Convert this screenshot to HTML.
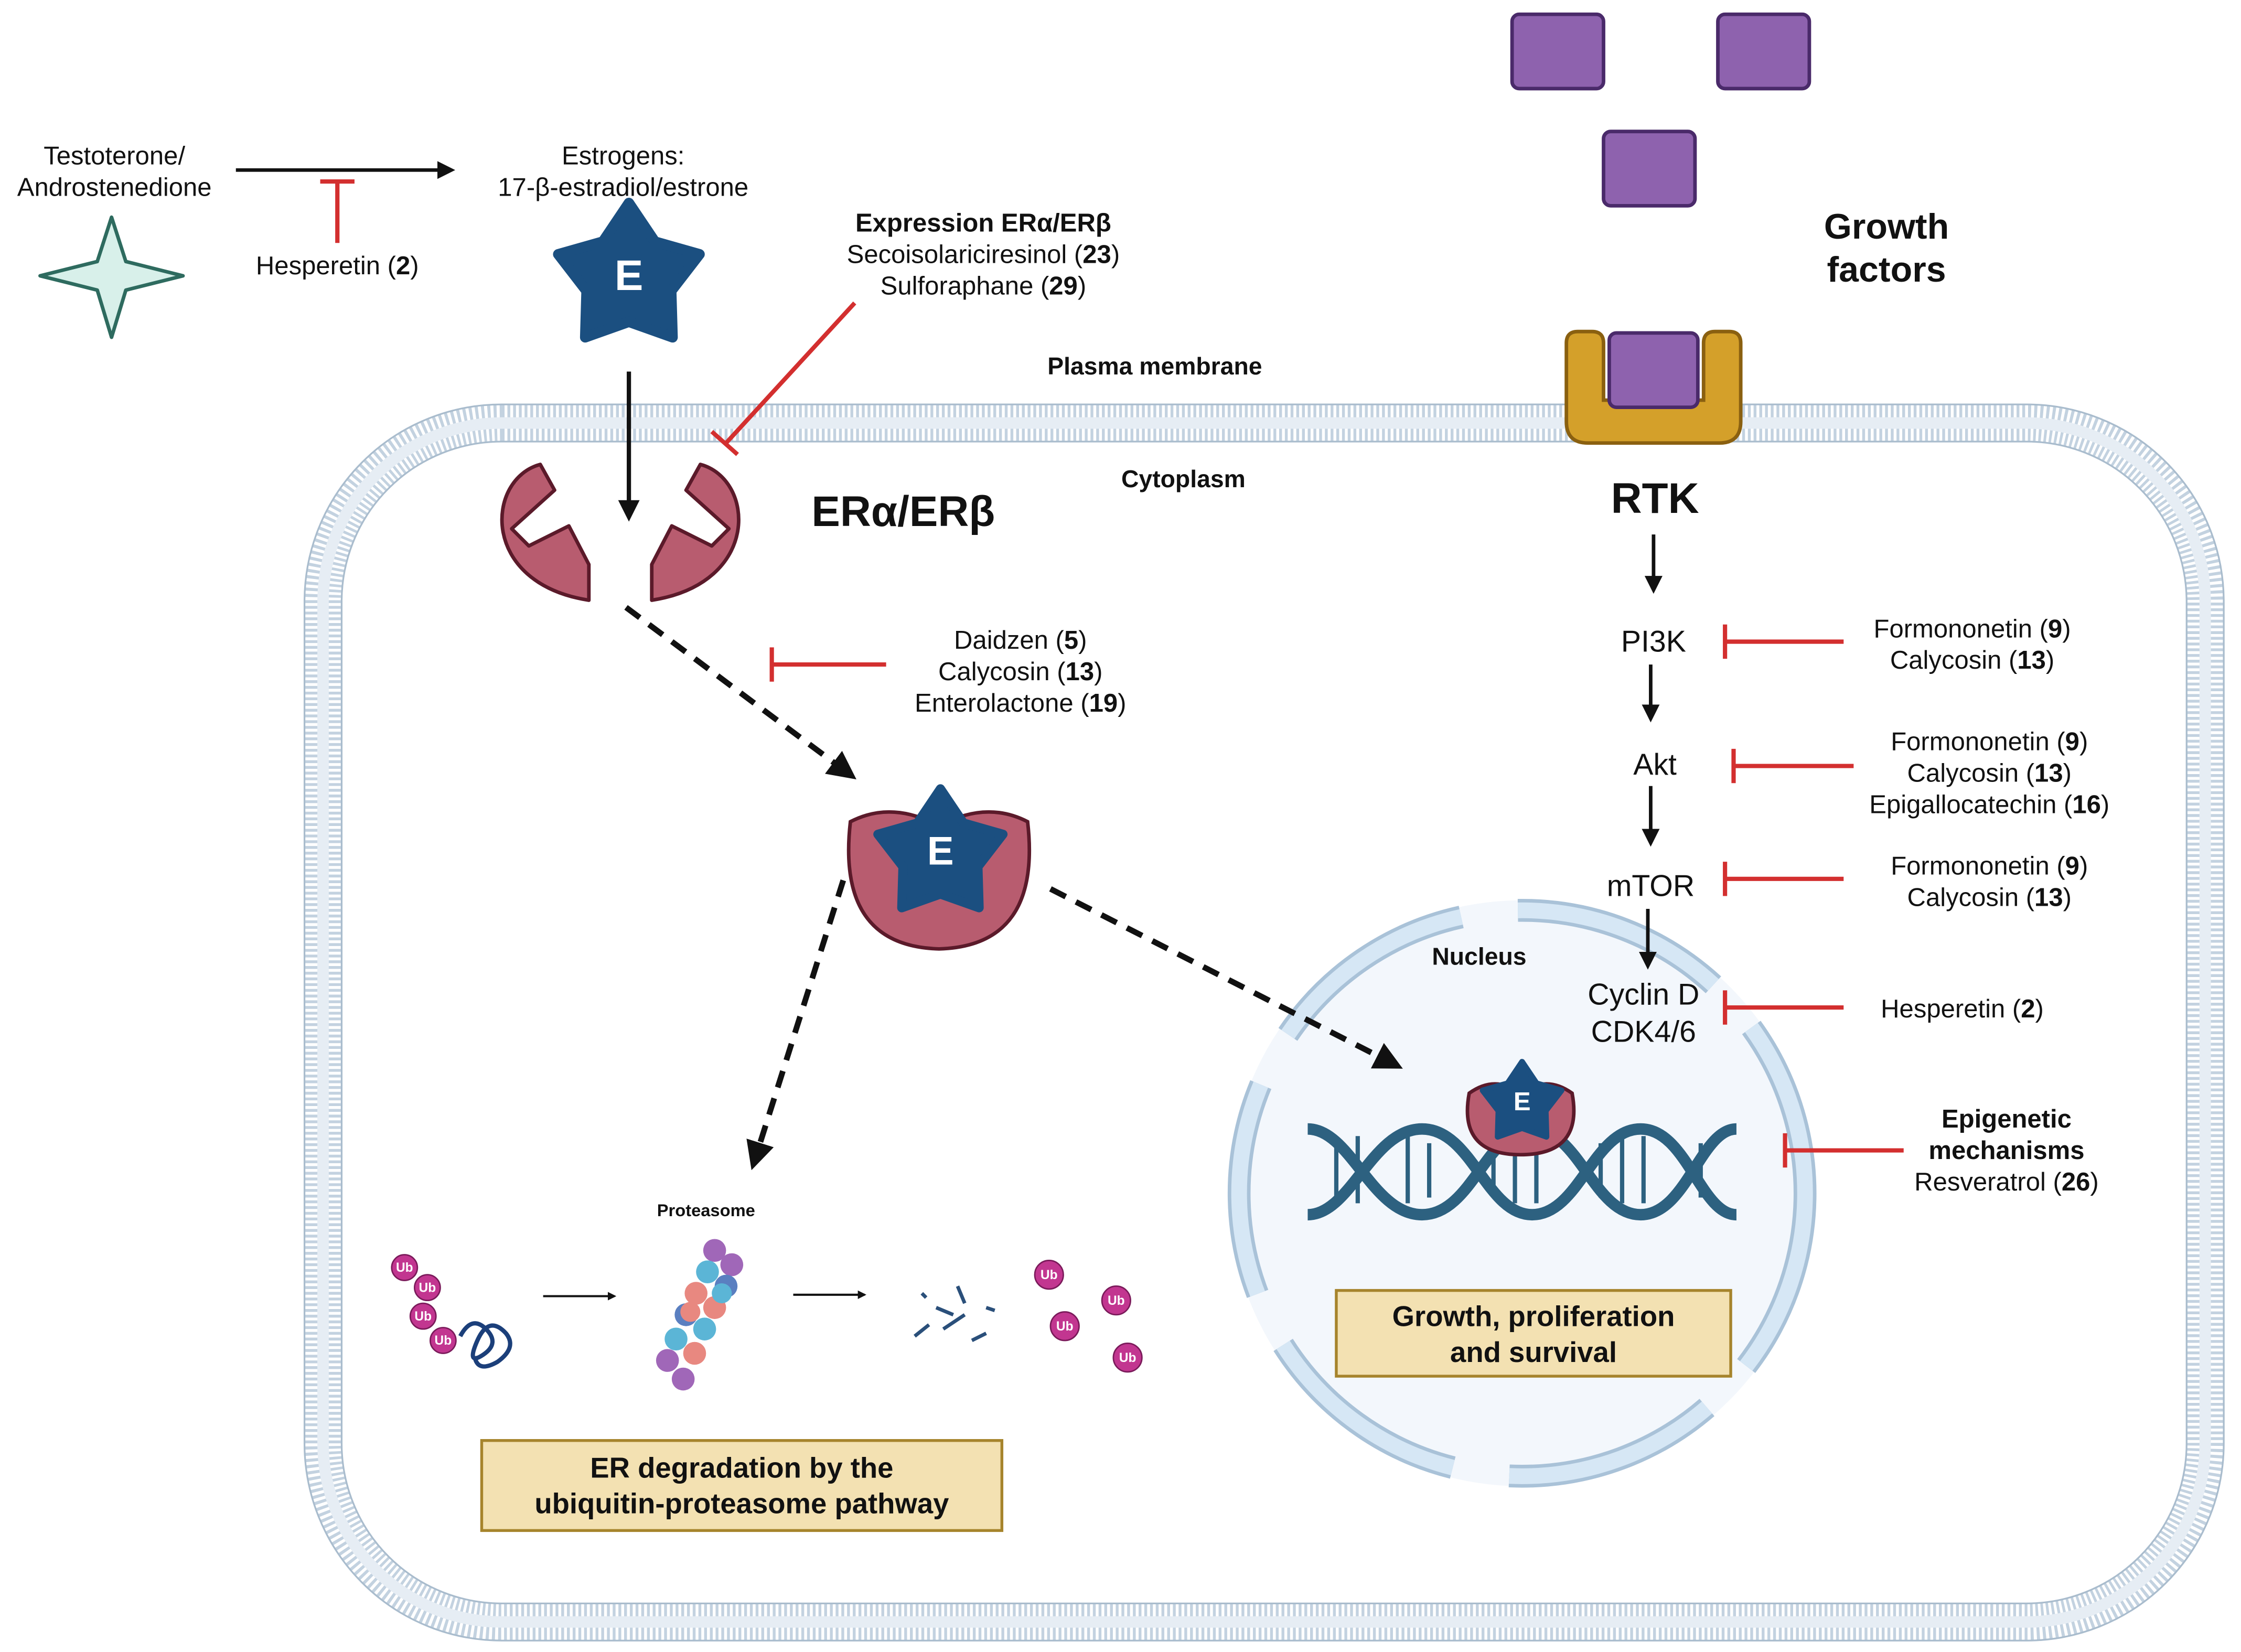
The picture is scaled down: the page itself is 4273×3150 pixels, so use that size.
<!DOCTYPE html>
<html><head><meta charset="utf-8"><style>
html,body{margin:0;padding:0;background:#fff}
svg{display:block}
text{font-family:"Liberation Sans",sans-serif;fill:#111}
.b{font-weight:bold}
</style></head><body>
<svg width="4273" height="3150" viewBox="0 0 1568 1156" xmlns="http://www.w3.org/2000/svg">
<defs>
<path id="star" d="M0,-1 L0.35,-0.48 L0.951,-0.309 L0.57,0.185 L0.588,0.809 L0,0.6 L-0.588,0.809 L-0.57,0.185 L-0.951,-0.309 L-0.35,-0.48 Z"/>
<marker id="ah" viewBox="0 0 10 10" refX="8" refY="5" markerWidth="5" markerHeight="5" orient="auto"><path d="M0,0 L10,5 L0,10 z" fill="#111"/></marker>
<marker id="ah2" viewBox="0 0 10 10" refX="8" refY="5" markerWidth="4" markerHeight="4" orient="auto"><path d="M0,0 L10,5 L0,10 z" fill="#111"/></marker>
</defs>

<!-- cell membrane -->
<rect x="226" y="296" width="1317" height="839" rx="125" fill="none" stroke="#c3d2e0" stroke-width="26" stroke-dasharray="2 2"/>
<rect x="226" y="296" width="1317" height="839" rx="125" fill="none" stroke="#e6edf4" stroke-width="8"/>
<rect x="213" y="283" width="1343" height="865" rx="138" fill="none" stroke="#a9bccd" stroke-width="1.2"/>
<rect x="239" y="309" width="1291" height="813" rx="112" fill="none" stroke="#a9bccd" stroke-width="1.2"/>

<!-- top left -->
<text x="80" y="115" font-size="18" text-anchor="middle">Testoterone/</text>
<text x="80" y="137" font-size="18" text-anchor="middle">Androstenedione</text>
<line x1="165" y1="119" x2="316" y2="119" stroke="#111" stroke-width="2.5" marker-end="url(#ah)"/>
<line x1="236" y1="170" x2="236" y2="127" stroke="#d32f2f" stroke-width="3"/>
<line x1="224" y1="127" x2="248" y2="127" stroke="#d32f2f" stroke-width="3"/>
<text x="236" y="192" font-size="18" text-anchor="middle">Hesperetin (<tspan class="b">2</tspan>)</text>
<path d="M78,152 L88,183 L128,193 L88,203 L78,236 L68,203 L28,193 L68,183 Z" fill="#d8f0ea" stroke="#2e6b5f" stroke-width="2.5" stroke-linejoin="round"/>

<text x="436" y="115" font-size="18" text-anchor="middle">Estrogens:</text>
<text x="436" y="137" font-size="18" text-anchor="middle">17-β-estradiol/estrone</text>
<use href="#star" transform="translate(440,194) scale(52)" fill="#1b4f80" stroke="#1b4f80" stroke-width="0.14" stroke-linejoin="round"/>
<text x="440" y="203" font-size="30" class="b" text-anchor="middle" style="fill:#fff">E</text>
<line x1="440" y1="260" x2="440" y2="362" stroke="#111" stroke-width="3" marker-end="url(#ah)"/>

<text x="688" y="162" font-size="18" class="b" text-anchor="middle">Expression ERα/ERβ</text>
<text x="688" y="184" font-size="18" text-anchor="middle">Secoisolariciresinol (<tspan class="b">23</tspan>)</text>
<text x="688" y="206" font-size="18" text-anchor="middle">Sulforaphane (<tspan class="b">29</tspan>)</text>
<line x1="598" y1="212" x2="508" y2="310" stroke="#d32f2f" stroke-width="3"/>
<line x1="498" y1="302" x2="516" y2="318" stroke="#d32f2f" stroke-width="3"/>

<text x="808" y="262" font-size="17" class="b" text-anchor="middle">Plasma membrane</text>
<text x="828" y="341" font-size="17" class="b" text-anchor="middle">Cytoplasm</text>

<!-- receptor halves -->
<path d="M412,420 L412,395 L398,368 L370,382 L358,370 L388,343 L378,325 C340,335 335,408 412,420 Z" fill="#b85c6f" stroke="#5b1a2a" stroke-width="2.5" stroke-linejoin="round"/>
<path d="M456,420 L456,395 L470,368 L498,382 L510,370 L480,343 L490,325 C528,335 533,408 456,420 Z" fill="#b85c6f" stroke="#5b1a2a" stroke-width="2.5" stroke-linejoin="round"/>
<text x="632" y="368" font-size="30" class="b" text-anchor="middle">ERα/ERβ</text>

<line x1="438" y1="425" x2="596" y2="543" stroke="#111" stroke-width="4" stroke-dasharray="12 8" marker-end="url(#ah)"/>
<line x1="540" y1="465" x2="620" y2="465" stroke="#d32f2f" stroke-width="3"/>
<line x1="540" y1="453" x2="540" y2="477" stroke="#d32f2f" stroke-width="3"/>
<text x="714" y="454" font-size="18" text-anchor="middle">Daidzen (<tspan class="b">5</tspan>)</text>
<text x="714" y="476" font-size="18" text-anchor="middle">Calycosin (<tspan class="b">13</tspan>)</text>
<text x="714" y="498" font-size="18" text-anchor="middle">Enterolactone (<tspan class="b">19</tspan>)</text>

<!-- complex -->
<path d="M595,575 Q585,662 657,664 Q729,662 719,575 Q690,560 657,578 Q624,560 595,575 Z" fill="#b85c6f" stroke="#5b1a2a" stroke-width="2.5"/>
<use href="#star" transform="translate(658,598) scale(46)" fill="#1b4f80" stroke="#1b4f80" stroke-width="0.14" stroke-linejoin="round"/>
<text x="658" y="605" font-size="28" class="b" text-anchor="middle" style="fill:#fff">E</text>

<line x1="590" y1="616" x2="527" y2="815" stroke="#111" stroke-width="4" stroke-dasharray="12 8" marker-end="url(#ah)"/>

<!-- proteasome area -->
<text x="494" y="851" font-size="12" class="b" text-anchor="middle">Proteasome</text>
<g font-size="9" font-weight="bold" text-anchor="middle">
<circle cx="283" cy="887" r="9" fill="#c23690" stroke="#7a1a5a"/><text x="283" y="890" style="fill:#fff">Ub</text>
<circle cx="299" cy="901" r="9" fill="#c23690" stroke="#7a1a5a"/><text x="299" y="904" style="fill:#fff">Ub</text>
<circle cx="296" cy="921" r="9" fill="#c23690" stroke="#7a1a5a"/><text x="296" y="924" style="fill:#fff">Ub</text>
<circle cx="310" cy="938" r="9" fill="#c23690" stroke="#7a1a5a"/><text x="310" y="941" style="fill:#fff">Ub</text>
<circle cx="734" cy="892" r="10" fill="#c23690" stroke="#7a1a5a"/><text x="734" y="895" style="fill:#fff">Ub</text>
<circle cx="781" cy="910" r="10" fill="#c23690" stroke="#7a1a5a"/><text x="781" y="913" style="fill:#fff">Ub</text>
<circle cx="745" cy="928" r="10" fill="#c23690" stroke="#7a1a5a"/><text x="745" y="931" style="fill:#fff">Ub</text>
<circle cx="789" cy="950" r="10" fill="#c23690" stroke="#7a1a5a"/><text x="789" y="953" style="fill:#fff">Ub</text>
</g>
<path d="M322,935 q8,-15 18,-5 q10,10 -2,18 q-12,8 -4,-10 q8,-18 20,-5 q8,10 -6,20 q-14,8 -16,-4" fill="none" stroke="#1b3f7a" stroke-width="3"/>
<line x1="380" y1="907" x2="430" y2="907" stroke="#111" stroke-width="1.5" marker-end="url(#ah2)"/>
<line x1="555" y1="906" x2="605" y2="906" stroke="#111" stroke-width="1.5" marker-end="url(#ah2)"/>
<g>
<circle cx="500" cy="875" r="8" fill="#a067b8"/><circle cx="512" cy="885" r="8" fill="#a067b8"/>
<circle cx="495" cy="890" r="8" fill="#5bb5d6"/><circle cx="508" cy="900" r="8" fill="#5a7fc0"/>
<circle cx="487" cy="905" r="8" fill="#e88880"/><circle cx="500" cy="915" r="8" fill="#e88880"/>
<circle cx="480" cy="920" r="8" fill="#5a7fc0"/><circle cx="493" cy="930" r="8" fill="#5bb5d6"/>
<circle cx="473" cy="937" r="8" fill="#5bb5d6"/><circle cx="486" cy="947" r="8" fill="#e88880"/>
<circle cx="467" cy="952" r="8" fill="#a067b8"/><circle cx="478" cy="965" r="8" fill="#a067b8"/>
<circle cx="505" cy="905" r="7" fill="#5bb5d6"/><circle cx="483" cy="918" r="7" fill="#e88880"/>
</g>
<path d="M640,935 l10,-8 M655,915 l12,5 M660,930 l15,-10 M670,900 l5,12 M680,938 l10,-5 M645,905 l3,3 M690,915 l6,2" stroke="#2a4f7a" stroke-width="2.5"/>
<rect x="337" y="1008" width="364" height="63" fill="#f3e1b2" stroke="#a6842c" stroke-width="2"/>
<text x="519" y="1034" font-size="20" class="b" text-anchor="middle">ER degradation by the</text>
<text x="519" y="1059" font-size="20" class="b" text-anchor="middle">ubiquitin-proteasome pathway</text>

<!-- nucleus -->
<circle cx="1065" cy="835" r="205" fill="#f3f7fc"/>
<circle cx="1065" cy="835" r="198" fill="none" stroke="#a9c2d8" stroke-width="16" stroke-dasharray="150 40" stroke-dashoffset="20"/>
<circle cx="1065" cy="835" r="198" fill="none" stroke="#d6e7f5" stroke-width="11" stroke-dasharray="150 40" stroke-dashoffset="20"/>
<text x="1035" y="675" font-size="17" class="b" text-anchor="middle">Nucleus</text>

<line x1="735" y1="622" x2="978" y2="746" stroke="#111" stroke-width="4" stroke-dasharray="12 8" marker-end="url(#ah)"/>

<!-- DNA -->
<g stroke="#2d6180" stroke-width="3">
<line x1="935" y1="800" x2="935" y2="838"/><line x1="950" y1="795" x2="950" y2="842"/>
<line x1="985" y1="795" x2="985" y2="842"/><line x1="1000" y1="800" x2="1000" y2="838"/>
<line x1="1045" y1="800" x2="1045" y2="838"/><line x1="1060" y1="795" x2="1060" y2="842"/>
<line x1="1075" y1="795" x2="1075" y2="842"/><line x1="1120" y1="800" x2="1120" y2="838"/>
<line x1="1135" y1="795" x2="1135" y2="842"/><line x1="1150" y1="795" x2="1150" y2="842"/>
<line x1="1190" y1="800" x2="1190" y2="838"/>
</g>
<path d="M915,790 C945,790 960,850 995,850 C1030,850 1040,790 1072,790 C1105,790 1115,850 1148,850 C1180,850 1190,790 1215,790" fill="none" stroke="#2d6180" stroke-width="8"/>
<path d="M915,850 C945,850 960,790 995,790 C1030,790 1040,850 1072,850 C1105,850 1115,790 1148,790 C1180,790 1190,850 1215,850" fill="none" stroke="#2d6180" stroke-width="8"/>
<path d="M1028,765 Q1020,808 1064,808 Q1108,808 1100,765 Q1082,752 1064,765 Q1046,752 1028,765 Z" fill="#b85c6f" stroke="#5b1a2a" stroke-width="2.5"/>
<use href="#star" transform="translate(1065,772) scale(29)" fill="#1b4f80" stroke="#1b4f80" stroke-width="0.14" stroke-linejoin="round"/>
<text x="1065" y="777" font-size="18" class="b" text-anchor="middle" style="fill:#fff">E</text>

<rect x="935" y="903" width="276" height="60" fill="#f3e1b2" stroke="#a6842c" stroke-width="2"/>
<text x="1073" y="928" font-size="20" class="b" text-anchor="middle">Growth, proliferation</text>
<text x="1073" y="953" font-size="20" class="b" text-anchor="middle">and survival</text>

<!-- growth factors -->
<rect x="1058" y="10" width="64" height="52" rx="5" fill="#8e62ae" stroke="#4a2a6a" stroke-width="2.5"/>
<rect x="1202" y="10" width="64" height="52" rx="5" fill="#8e62ae" stroke="#4a2a6a" stroke-width="2.5"/>
<rect x="1122" y="92" width="64" height="52" rx="5" fill="#8e62ae" stroke="#4a2a6a" stroke-width="2.5"/>
<text x="1320" y="167" font-size="25" class="b" text-anchor="middle">Growth</text>
<text x="1320" y="197" font-size="25" class="b" text-anchor="middle">factors</text>
<path d="M1096,240 Q1096,232 1104,232 L1114,232 Q1122,232 1122,240 L1122,280 L1192,280 L1192,240 Q1192,232 1200,232 L1210,232 Q1218,232 1218,240 L1218,295 Q1218,310 1203,310 L1111,310 Q1096,310 1096,295 Z" fill="#d4a02a" stroke="#8a6010" stroke-width="2.5"/>
<rect x="1126" y="233" width="62" height="52" rx="5" fill="#8e62ae" stroke="#4a2a6a" stroke-width="2.5"/>
<text x="1158" y="359" font-size="30" class="b" text-anchor="middle">RTK</text>

<!-- pathway -->
<g stroke="#111" stroke-width="2.5">
<line x1="1157" y1="374" x2="1157" y2="413" marker-end="url(#ah)"/>
<line x1="1155" y1="465" x2="1155" y2="503" marker-end="url(#ah)"/>
<line x1="1155" y1="550" x2="1155" y2="590" marker-end="url(#ah)"/>
<line x1="1153" y1="636" x2="1153" y2="676" marker-end="url(#ah)"/>
</g>
<text x="1157" y="456" font-size="21" text-anchor="middle">PI3K</text>
<text x="1158" y="542" font-size="21" text-anchor="middle">Akt</text>
<text x="1155" y="627" font-size="21" text-anchor="middle">mTOR</text>
<text x="1150" y="703" font-size="21" text-anchor="middle">Cyclin D</text>
<text x="1150" y="729" font-size="21" text-anchor="middle">CDK4/6</text>

<g stroke="#d32f2f" stroke-width="3">
<line x1="1207" y1="449" x2="1290" y2="449"/><line x1="1207" y1="437" x2="1207" y2="461"/>
<line x1="1213" y1="536" x2="1297" y2="536"/><line x1="1213" y1="524" x2="1213" y2="548"/>
<line x1="1207" y1="615" x2="1290" y2="615"/><line x1="1207" y1="603" x2="1207" y2="627"/>
<line x1="1207" y1="705" x2="1290" y2="705"/><line x1="1207" y1="693" x2="1207" y2="717"/>
<line x1="1249" y1="805" x2="1332" y2="805"/><line x1="1249" y1="793" x2="1249" y2="817"/>
</g>
<g font-size="18" text-anchor="middle">
<text x="1380" y="446">Formononetin (<tspan class="b">9</tspan>)</text>
<text x="1380" y="468">Calycosin (<tspan class="b">13</tspan>)</text>
<text x="1392" y="525">Formononetin (<tspan class="b">9</tspan>)</text>
<text x="1392" y="547">Calycosin (<tspan class="b">13</tspan>)</text>
<text x="1392" y="569">Epigallocatechin (<tspan class="b">16</tspan>)</text>
<text x="1392" y="612">Formononetin (<tspan class="b">9</tspan>)</text>
<text x="1392" y="634">Calycosin (<tspan class="b">13</tspan>)</text>
<text x="1373" y="712">Hesperetin (<tspan class="b">2</tspan>)</text>
<text x="1404" y="789" class="b">Epigenetic</text>
<text x="1404" y="811" class="b">mechanisms</text>
<text x="1404" y="833">Resveratrol (<tspan class="b">26</tspan>)</text>
</g>
</svg>
</body></html>
